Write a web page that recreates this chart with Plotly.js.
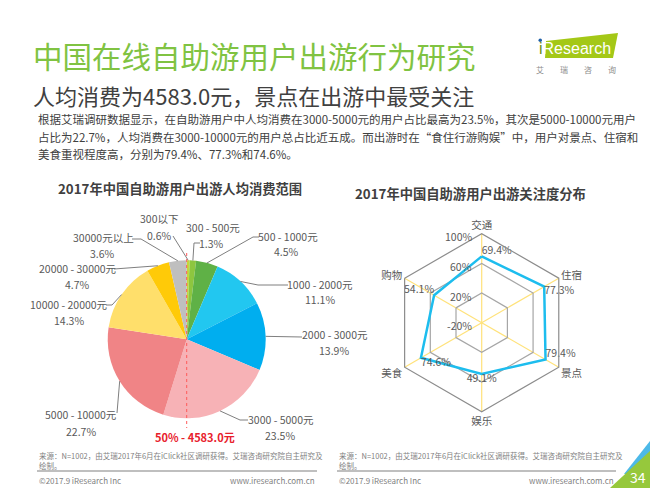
<!DOCTYPE html>
<html><head><meta charset="utf-8">
<script src="https://cdn.plot.ly/plotly-3.0.1.min.js"></script>
<style>html,body{margin:0;padding:0;background:#fff}#chart{width:650px;height:488px}</style>
</head><body><div id="chart"></div>
<script>
// ---- data ----
const pieLabels = ['300以下','300 - 500元','500 - 1000元','1000 - 2000元','2000 - 3000元','3000 - 5000元','5000 - 10000元','10000 - 20000元','20000 - 30000元','30000元以上'];
const pieValues = [0.6,1.3,4.5,11.1,13.9,23.5,22.7,14.3,4.7,3.6];
const radarCats = ['交通','住宿','景点','娱乐','美食','购物'];
const radarValues = [69.4,77.3,79.4,49.1,74.6,54.1];
const radarTicks = [-20,20,60,100];
const medianLabel = '50% - 4583.0元';

// ---- styles / layout helpers ----
const pieColors = ['#c3d83a','#8dc63f','#5fb146','#22c7f0','#00aeef','#f7b2b6','#f08486','#ffdf6b','#ffca08','#bfbfbf'];
const W = 650, H = 488;
const px = x => x / W, py = y => 1 - y / H;
const FONT = '"Noto Sans CJK SC", "Noto Sans", sans-serif';
const pieC = {x:186.7, y:339.3, r:79};
const polC = {x:481.7, y:322.7, r:89};
const radRange = [-20, 100];

// label placement for pie (pixel positions): name centre, pct centre, leader path points after the slice edge
const pieLabelPos = [
  {n:[158.5,218], p:[159,235], path:[[173,236]]},
  {n:[212.5,228], p:[212,243], path:[[194,243],[200,243]]},
  {n:[288,236], p:[286.5,251], path:[[253,237],[259,237]]},
  {n:[320,284], p:[319.5,299], path:[[258,285],[288,285]]},
  {n:[334.5,334], p:[333.5,350], path:[[302,337]]},
  {n:[281,419], p:[280,435], path:[[240,420],[248,420]]},
  {n:[81.5,414], p:[81.5,431], path:[[117,413]]},
  {n:[68.5,304], p:[68.5,320], path:[[112,305],[106,305]]},
  {n:[77.5,268], p:[77.5,284], path:[[114,269]]},
  {n:[103.5,238], p:[102.5,253], path:[[141,239],[132,239]]}
];

const annotations = [];
const shapes = [];
function txt(text, x, y, size, color, opts) {
  annotations.push(Object.assign({text:text, x:px(x), y:py(y), xref:'paper', yref:'paper',
    showarrow:false, xanchor:'left', yanchor:'middle',
    font:{family:FONT, size:size, color:color}}, opts||{}));
}

// header
txt('中国在线自助游用户出游行为研究', 31, 55, 29.5, '#80c342');
txt('人均消费为4583.0元，景点在出游中最受关注', 31, 95, 22, '#404040');
const para = ['根据艾瑞调研数据显示，在自助游用户中人均消费在3000-5000元的用户占比最高为23.5%，其次是5000-10000元用户',
  '占比为22.7%，人均消费在3000-10000元的用户总占比近五成。而出游时在“食住行游购娱”中，用户对景点、住宿和',
  '美食重视程度高，分别为79.4%、77.3%和74.6%。'];
para.forEach((l,i)=>txt(l, 36, 119 + i*17.6, 11.5, '#404040'));

// logo
shapes.push({type:'path', xref:'paper', yref:'paper', path:`M${px(546)},${py(41)} L${px(618)},${py(33)} L${px(613)},${py(58)} L${px(545)},${py(58)} Z`, fillcolor:'#a4c817', line:{width:0}});
txt('<span style="color:#6c8f1a">i</span>Research', 537, 48, 16, '#ffffff', {font:{family:'"Liberation Sans", Arial, sans-serif', size:16, color:'#ffffff'}});
shapes.push({type:'circle', xref:'paper', yref:'paper', x0:px(538.5), x1:px(542), y0:py(38.5), y1:py(42), fillcolor:'#1f5fa8', line:{width:0}});
txt('艾　　瑞　　咨　　询', 576, 69, 8, '#8c8c8c', {xanchor:'center'});

// chart titles
txt('<b>2017年中国自助游用户出游人均消费范围</b>', 180, 188, 13.3, '#404040', {xanchor:'center'});
txt('<b>2017年中国自助游用户出游关注度分布</b>', 470, 194, 13.3, '#404040', {xanchor:'center'});

// pie leader lines + labels (edge point computed from data)
const total = pieValues.reduce((a,b)=>a+b,0);
let cum = 0;
pieValues.forEach((v,i)=>{
  const mid = (cum + v/2) / total * 2*Math.PI; cum += v;
  const ex = pieC.x + pieC.r*Math.sin(mid), ey = pieC.y - pieC.r*Math.cos(mid);
  const pos = pieLabelPos[i];
  let d = `M${px(ex)},${py(ey)}`;
  pos.path.forEach(p=>{ d += ` L${px(p[0])},${py(p[1])}`; });
  shapes.push({type:'path', xref:'paper', yref:'paper', path:d, line:{color:'#7f7f7f', width:1}});
  txt(pieLabels[i], pos.n[0], pos.n[1], 10.5, '#595959', {xanchor:'center'});
  txt(v.toFixed(1)+'%', pos.p[0], pos.p[1], 10.5, '#595959', {xanchor:'center'});
});
// median dashed line + label
shapes.push({type:'line', xref:'paper', yref:'paper', x0:px(pieC.x), x1:px(pieC.x), y0:py(253), y1:py(428), line:{color:'#ff5a5a', width:1, dash:'dot'}, layer:'above'});
txt('<b>'+medianLabel+'</b>', 195, 437, 11, '#e8212c', {xanchor:'center'});

// radial tick labels (positioned from the radial scale)
radarTicks.forEach(t=>{
  const y = polC.y - (t - radRange[0]) / (radRange[1]-radRange[0]) * polC.r + 3;
  txt(t+'%', 474, y, 10.5, '#595959', {xanchor:'right'});
});

// footer
[[37,317],[337,616]].forEach(([a,b])=>{
  txt('来源：N=1002，由艾瑞2017年6月在iClick社区调研获得。艾瑞咨询研究院自主研究及', a, 455, 7.5, '#7f7f7f');
  txt('绘制。', a, 465, 7.5, '#7f7f7f');
  shapes.push({type:'line', xref:'paper', yref:'paper', x0:px(a), x1:px(b), y0:py(471), y1:py(471), line:{color:'#bfbfbf', width:2}});
  txt('©2017.9 iResearch Inc', a, 480, 8, '#7f7f7f');
  txt('www.iresearch.com.cn', b, 480, 8, '#7f7f7f', {xanchor:'right'});
});
// corner decoration
shapes.push({type:'path', xref:'paper', yref:'paper', path:`M${px(624)},${py(474)} L${px(650)},${py(441)} L${px(650)},${py(474)} Z`, fillcolor:'#4cb9e8', line:{width:0}});
shapes.push({type:'path', xref:'paper', yref:'paper', path:`M${px(610)},${py(488)} L${px(650)},${py(451)} L${px(650)},${py(488)} Z`, fillcolor:'#96c83c', line:{width:0}});
txt('34', 638, 477, 14, '#ffffff', {xanchor:'center'});

// ---- traces ----
const pieTrace = {
  type:'pie', labels:pieLabels, values:pieValues, sort:false, direction:'clockwise', rotation:0,
  marker:{colors:pieColors, line:{width:0}}, textinfo:'none', hoverinfo:'skip',
  domain:{x:[px(pieC.x-pieC.r), px(pieC.x+pieC.r)], y:[py(pieC.y+pieC.r), py(pieC.y-pieC.r)]}
};
const radarTrace = {
  type:'scatterpolar', mode:'lines+text',
  r: radarValues.concat([radarValues[0]]),
  theta: radarCats.concat([radarCats[0]]),
  text: radarValues.map(v=>v.toFixed(1)+'%').concat(['']),
  textposition:['top right','bottom right','top right','bottom center','bottom right','top left','top right'],
  textfont:{family:FONT, size:10.5, color:'#595959'},
  line:{color:'#1dbdee', width:2.5}, hoverinfo:'skip', cliponaxis:false
};

const layout = {
  width:W, height:H, margin:{l:0,r:0,t:0,b:0}, paper_bgcolor:'#fff', plot_bgcolor:'#fff',
  showlegend:false, font:{family:FONT},
  polar:{
    domain:{x:[px(polC.x-polC.r), px(polC.x+polC.r)], y:[py(polC.y+polC.r), py(polC.y-polC.r)]},
    gridshape:'linear', bgcolor:'rgba(0,0,0,0)',
    radialaxis:{range:radRange, tickvals:radarTicks, showticklabels:false, angle:90,
      showline:false, gridcolor:'#a6a6a6', gridwidth:1.2, ticks:''},
    angularaxis:{rotation:90, direction:'clockwise', gridcolor:'#ffe27a', gridwidth:1.2, showline:true,
      linecolor:'#8c8c8c', linewidth:1.2, ticks:'', tickfont:{family:FONT, size:10.5, color:'#595959'}}
  },
  annotations:annotations, shapes:shapes
};
Plotly.newPlot('chart', [pieTrace, radarTrace], layout, {staticPlot:true, displayModeBar:false});
</script></body></html>
